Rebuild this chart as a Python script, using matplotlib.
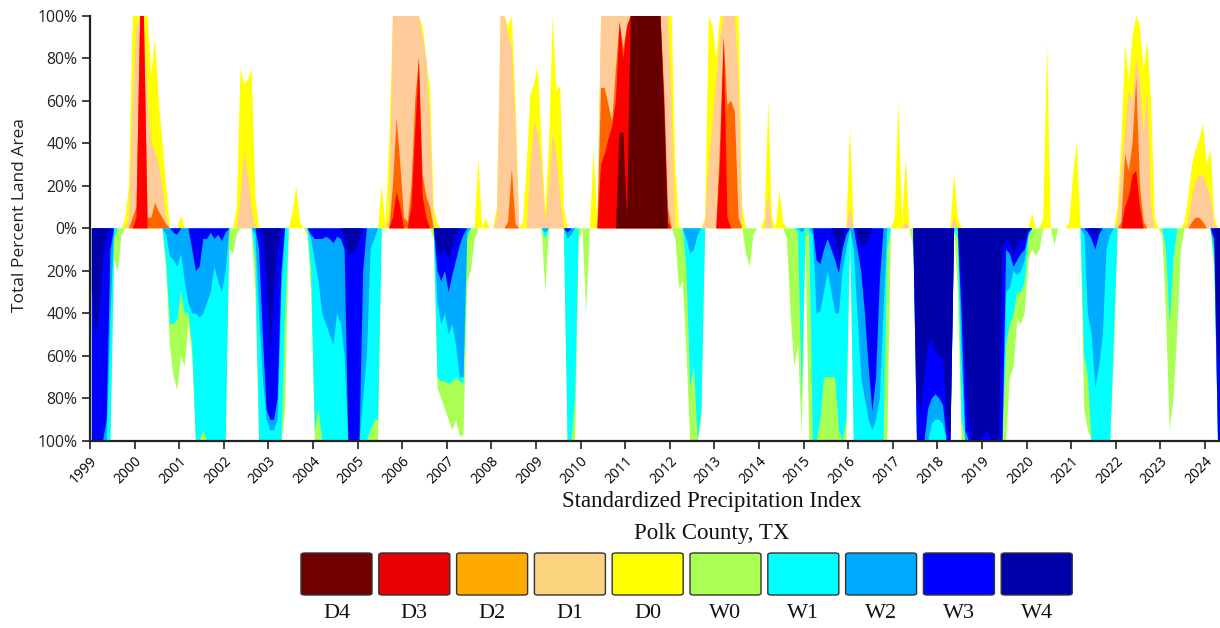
import numpy as np
import matplotlib
matplotlib.use("Agg")
import matplotlib.pyplot as plt
from matplotlib.patches import FancyBboxPatch

# ---------------- data (percent of area, cumulative categories, monthly) -------------
START_YEAR = 1999
N_MONTHS = 305  # Jan 1999 .. May 2024

D0 = {1999: [0, 0, 0, 0, 0, 0, 0, 0, 0, 5, 20, 100],
      2000: [100, 100, 100, 100, 72, 90, 60, 40, 20, 0, 0, 0],
      2001: [6],
      2002: [0, 0, 0, 10, 75, 68, 70, 75, 15, 0, 0, 0],
      2003: [0, 0, 0, 0, 0, 0, 8, 20, 3, 0, 0, 0],
      2005: [0, 0, 0, 0, 0, 0, 20, 2, 40, 100, 100, 100],
      2006: [100, 100, 100, 100, 100, 95, 80, 66, 10, 2, 0, 0],
      2007: [0, 0, 0, 0, 0, 0, 0, 0, 33, 0, 5, 0],
      2008: [0, 10, 100, 100, 95, 100, 60, 0, 3, 30, 63, 68],
      2009: [76, 40, 8, 40, 100, 65, 67, 10, 0, 0, 0, 0],
      2010: [0, 0, 0, 37, 3, 100, 100, 100, 100, 100, 100, 100],
      2011: [100, 100, 100, 100, 100, 100, 100, 100, 100, 100, 100, 100],
      2012: [100, 30, 0, 0, 0, 0, 0, 0, 0, 5, 100, 95],
      2013: [80, 100, 100, 100, 100, 100, 100, 10, 0, 0, 0, 0],
      2014: [0, 5, 60, 5, 0, 18, 3, 0, 0, 0, 0, 0],
      2016: [48],
      2017: [5, 60, 3, 33, 0],
      2018: [0, 0, 0, 0, 26, 5],
      2020: [0, 7, 0, 0, 5, 87, 0, 0, 0, 0, 0, 3],
      2021: [25, 41, 0],
      2022: [10, 40, 87, 70, 90, 100, 95, 75, 88, 60, 5, 0],
      2023: [0, 0, 0, 0, 0, 0, 3, 15, 30, 37, 42, 49],
      2024: [30, 37, 5, 0, 0]}

D1 = {1999: [0, 0, 0, 0, 0, 0, 0, 0, 0, 0, 5, 60],
      2000: [95, 100, 100, 60, 40, 37, 30, 20, 5, 0, 0, 0],
      2002: [0, 0, 0, 0, 15, 37, 25, 10, 0],
      2005: [0, 0, 0, 0, 0, 0, 0, 0, 5, 100, 100, 100],
      2006: [100, 100, 100, 100, 100, 90, 80, 50, 0],
      2008: [0, 5, 100, 100, 92, 85, 50, 0, 0, 0, 30, 50],
      2009: [45, 30, 3, 20, 45, 35, 15, 0],
      2010: [0, 0, 0, 0, 0, 100, 100, 100, 100, 100, 100, 100],
      2011: [100, 100, 100, 100, 100, 100, 100, 100, 100, 100, 100, 100],
      2012: [60, 0, 0, 0, 0, 0, 0, 0, 0, 3, 30, 50],
      2013: [70, 90, 100, 100, 100, 100, 70, 0],
      2014: [0, 0, 18, 0],
      2016: [10],
      2017: [0, 0, 0, 3, 0],
      2018: [0, 0, 0, 0, 5, 0],
      2022: [3, 28, 45, 65, 60, 80, 70, 45, 65, 10, 0, 0],
      2023: [0, 0, 0, 0, 0, 0, 0, 3, 15, 22, 25, 25],
      2024: [20, 15, 2, 0, 0]}

D2 = {1999: [0, 0, 0, 0, 0, 0, 0, 0, 0, 0, 0, 5],
      2000: [10, 100, 100, 5, 5, 12, 8, 5, 2, 0],
      2005: [0, 0, 0, 0, 0, 0, 0, 0, 0, 20, 52, 30],
      2006: [5, 3, 20, 60, 80, 25, 15, 10, 0],
      2008: [0, 0, 0, 0, 3, 28, 2, 0],
      2010: [0, 0, 0, 0, 0, 66, 66, 58, 50, 75, 97, 85],
      2011: [95, 100, 100, 100, 100, 100, 100, 100, 100, 100, 65, 10],
      2013: [0, 40, 90, 58, 60, 55, 5, 0],
      2022: [0, 3, 35, 27, 40, 71, 20, 3, 0],
      2023: [0, 0, 0, 0, 0, 0, 0, 0, 3, 5, 5, 3]}

D3 = {2000: [5, 100, 100, 0],
      2005: [0, 0, 0, 0, 0, 0, 0, 0, 0, 5, 17, 10],
      2006: [0, 0, 10, 45, 80, 15, 5, 0],
      2010: [0, 0, 0, 0, 0, 30, 35, 42, 48, 60, 97, 80],
      2011: [95, 100, 100, 100, 100, 100, 100, 100, 100, 100, 60, 3],
      2013: [0, 30, 90, 5, 0],
      2022: [0, 0, 10, 15, 25, 27, 10, 0]}

D4 = {2010: [0, 0, 0, 0, 0, 0, 0, 0, 0, 0, 45, 45],
      2011: [5, 100, 100, 100, 100, 100, 100, 100, 100, 100, 55, 0]}

W0 = {1999: [100, 100, 100, 100, 100, 100, 15, 20, 3, 0, 0, 0],
      2000: [0, 0, 0, 0, 0, 0, 0, 0, 20, 55, 70, 76],
      2001: [60, 65, 45, 60, 100, 100, 100, 100, 100, 100, 100, 100],
      2002: [100, 10, 12, 3, 0, 0, 0, 0, 30, 100, 100, 100],
      2003: [100, 100, 100, 100, 85, 0, 0, 0, 0, 0, 3, 30],
      2004: [100, 100, 100, 100, 100, 100, 100, 100, 100, 100, 100, 100],
      2005: [100, 100, 100, 100, 100, 100, 0],
      2006: [0, 0, 0, 0, 0, 0, 0, 0, 5, 75, 80, 85],
      2007: [90, 95, 90, 98, 97, 25, 20, 5, 0],
      2009: [0, 0, 30, 0, 0, 0, 0, 0, 100, 100, 100, 5],
      2010: [0, 40, 0],
      2012: [0, 5, 28, 25, 60, 100, 100, 100, 90, 0],
      2013: [0, 0, 0, 0, 0, 0, 0, 0, 12, 18, 3, 0],
      2014: [0, 0, 0, 0, 0, 0, 0, 5, 40, 65, 55, 97],
      2015: [5, 100, 100, 100, 100, 100, 100, 100, 100, 100, 100, 100],
      2016: [0, 100, 100, 100, 100, 100, 100, 100, 100, 100, 100, 0],
      2017: [0, 0, 0, 0, 0, 10, 100, 100, 100, 100, 100, 100],
      2018: [100, 100, 100, 100, 0, 30, 100, 100, 100, 100, 100, 100],
      2019: [100, 100, 100, 100, 100, 100, 100, 70, 65, 43, 45, 40],
      2020: [15, 10, 13, 10, 0, 0, 0, 8, 0],
      2021: [0, 0, 0, 85, 95, 100, 100, 100, 100, 100, 100, 60],
      2023: [3, 40, 95, 80, 50, 10, 0],
      2024: [0, 0, 20, 100, 100]}

W1 = {1999: [100, 100, 100, 100, 100, 100, 5, 0],
      2000: [0, 0, 0, 0, 0, 0, 0, 0, 15, 45, 45, 43],
      2001: [30, 40, 40, 55, 100, 100, 95, 100, 100, 100, 100, 100],
      2002: [100, 0, 0, 0, 0, 0, 0, 0, 15, 100, 100, 100],
      2003: [100, 100, 100, 100, 40, 0, 0, 0, 0, 0, 0, 20],
      2004: [95, 85, 100, 100, 100, 100, 100, 100, 100, 100, 100, 100],
      2005: [100, 100, 100, 95, 90, 90, 0],
      2006: [0, 0, 0, 0, 0, 0, 0, 0, 0, 70, 72, 72],
      2007: [73, 72, 70, 72, 73, 5, 0],
      2009: [0, 0, 5, 0, 0, 0, 0, 0, 100, 100, 80, 0],
      2012: [0, 0, 0, 0, 20, 75, 65, 100, 85, 0],
      2014: [0, 0, 0, 0, 0, 0, 0, 0, 0, 0, 2, 80],
      2015: [0, 3, 100, 100, 90, 70, 70, 70, 70, 95, 100, 90],
      2016: [0, 100, 100, 100, 100, 100, 100, 100, 100, 100, 10, 0],
      2017: [0, 0, 0, 0, 0, 0, 100, 100, 100, 100, 100, 100],
      2018: [100, 100, 100, 100, 0, 5, 90, 100, 100, 100, 100, 100],
      2019: [100, 100, 100, 100, 100, 100, 55, 45, 40, 30, 30, 25],
      2020: [5],
      2021: [0, 0, 0, 60, 70, 100, 100, 100, 100, 100, 100, 50],
      2023: [0, 10, 45, 15, 0],
      2024: [0, 0, 15, 100, 100]}

W2 = {1999: [100, 100, 100, 100, 100, 40, 0],
      2000: [0, 0, 0, 0, 0, 0, 0, 0, 3, 13, 15, 18],
      2001: [12, 25, 35, 40, 40, 42, 40, 35, 30, 18, 25, 30],
      2002: [20, 0, 0, 0, 0, 0, 0, 0, 3, 40, 70, 90],
      2003: [95, 95, 90, 30, 0, 0, 0, 0, 0, 0, 0, 5],
      2004: [15, 25, 40, 45, 50, 55, 40, 45, 60, 100, 100, 100],
      2005: [100, 80, 60, 10, 5, 0],
      2006: [0, 0, 0, 0, 0, 0, 0, 0, 0, 35, 45, 40],
      2007: [50, 45, 55, 70, 70, 2, 0],
      2009: [0, 0, 2, 0, 0, 0, 0, 0, 5, 3, 0],
      2012: [0, 0, 0, 0, 5, 12, 10, 3, 0],
      2014: [0, 0, 0, 0, 0, 0, 0, 0, 0, 0, 0, 2],
      2015: [0, 0, 3, 40, 39, 30, 20, 30, 40, 40, 20, 10],
      2016: [0, 10, 40, 70, 80, 90, 95, 90, 80, 40, 0, 0],
      2017: [0, 0, 0, 0, 0, 0, 100, 100, 100, 100, 92, 90],
      2018: [90, 92, 100, 100, 0, 0, 60, 100, 100, 100, 100, 100],
      2019: [100, 100, 100, 100, 100, 100, 30, 28, 20, 22, 20, 15],
      2020: [3],
      2021: [0, 0, 0, 3, 40, 50, 75, 65, 50, 10, 3, 0],
      2024: [0, 0, 10, 100, 100]}

W3 = {1999: [100, 100, 100, 100, 90, 10, 0],
      2000: [0, 0, 0, 0, 0, 0, 0, 0, 0, 0, 2, 3],
      2001: [0, 0, 0, 10, 20, 18, 5, 5, 2, 5, 3, 6],
      2002: [2, 0, 0, 0, 0, 0, 0, 0, 0, 10, 50, 85],
      2003: [90, 90, 80, 20, 0, 0, 0, 0, 0, 0, 0, 3],
      2004: [5, 5, 5, 4, 5, 7, 4, 5, 10, 100, 100, 100],
      2005: [100, 20, 0],
      2006: [0, 0, 0, 0, 0, 0, 0, 0, 0, 20, 25, 20],
      2007: [30, 22, 15, 8, 3, 0],
      2009: [0, 0, 0, 0, 0, 0, 0, 0, 2, 0],
      2015: [0, 0, 0, 15, 17, 10, 5, 10, 15, 21, 10, 3],
      2016: [0, 0, 10, 20, 40, 65, 86, 70, 25, 0, 0, 0],
      2017: [0, 0, 0, 0, 0, 0, 100, 100, 100, 85, 80, 78],
      2018: [80, 83, 100, 100, 0, 0, 40, 95, 100, 100, 100, 100],
      2019: [100, 100, 100, 100, 100, 100, 10, 12, 18, 15, 12, 10],
      2020: [2],
      2021: [0, 0, 0, 0, 2, 5, 10, 3, 0],
      2024: [0, 0, 5, 100, 100]}

W4 = {1999: [30, 50, 40, 15, 3, 0],
      2002: [0, 0, 0, 0, 0, 0, 0, 0, 0, 0, 5, 25],
      2003: [59, 30, 10, 0],
      2004: [0, 0, 0, 0, 0, 0, 0, 0, 5, 12, 12, 10],
      2005: [5, 0],
      2006: [0, 0, 0, 0, 0, 0, 0, 0, 0, 10, 12, 10],
      2007: [15, 8, 3, 0],
      2015: [0, 0, 0, 0, 0, 0, 0, 0, 5, 15, 5, 0],
      2016: [0, 0, 3, 8, 8, 5, 0],
      2017: [0, 0, 0, 0, 0, 0, 80, 84, 70, 55, 52, 58],
      2018: [60, 62, 90, 100, 0, 0, 20, 60, 90, 100, 100, 100],
      2019: [97, 95, 100, 100, 97, 10, 5, 7, 13, 8, 5, 5],
      2020: [1],
      2021: [0, 0, 0, 0, 0, 1, 5, 0],
      2024: [0, 0, 0, 60, 70]}

YEARS = list(range(1999, 2025))
LEGEND_LABELS = ["D4", "D3", "D2", "D1", "D0", "W0", "W1", "W2", "W3", "W4"]

# ---------------- styling -------------------------------------------------------------
FILL_COLORS = {"D0": "#FFFF00", "D1": "#FFCC99", "D2": "#FF6600", "D3": "#FF0000",
               "D4": "#660000", "W0": "#AAFF55", "W1": "#00FFFF", "W2": "#00AAFF",
               "W3": "#0000FF", "W4": "#0000AA"}
LEGEND_COLORS = {"D4": "#730000", "D3": "#E60000", "D2": "#FFAA00", "D1": "#FCD37F",
                 "D0": "#FFFF00", "W0": "#AAFF55", "W1": "#00FFFF", "W2": "#00AAFF",
                 "W3": "#0000FF", "W4": "#0000AA"}


def monthly(d):
    arr = np.zeros(N_MONTHS)
    for yr, vals in d.items():
        i = (yr - START_YEAR) * 12
        arr[i:i + len(vals)] = vals
    return arr


def active(v):
    # include a month if it or a neighbour is non-zero (keeps sloped edges,
    # drops flat zero stretches that would otherwise draw a hairline at 0)
    nz = v > 0
    m = nz.copy()
    m[1:] |= nz[:-1]
    m[:-1] |= nz[1:]
    return m


t = START_YEAR + (np.arange(N_MONTHS) + 0.5) / 12.0

dry = {k: monthly(v) for k, v in zip(["D0", "D1", "D2", "D3", "D4"], [D0, D1, D2, D3, D4])}
wet = {k: monthly(v) for k, v in zip(["W0", "W1", "W2", "W3", "W4"], [W0, W1, W2, W3, W4])}

W, H = 1220, 628
fig = plt.figure(figsize=(W / 100, H / 100), dpi=100)
ax = fig.add_axes([90 / W, 1 - 441 / H, 1130 / W, 425.3 / H])

for k in ["D0", "D1", "D2", "D3", "D4"]:
    v = dry[k]
    ax.fill_between(t, 0, v, where=active(v), facecolor=FILL_COLORS[k],
                    lw=0, edgecolor="none")
for k in ["W0", "W1", "W2", "W3", "W4"]:
    v = wet[k]
    ax.fill_between(t, 0, -v, where=active(v), facecolor=FILL_COLORS[k],
                    lw=0, edgecolor="none")

ax.set_xlim(1999.0, 2024.336)
ax.set_ylim(-100, 100)
ax.set_xticks(YEARS)
ax.set_xticklabels([str(y) for y in YEARS], rotation=45, ha="right",
                   rotation_mode="anchor", fontsize=10, family="Open Sans")
yt = np.arange(-100, 101, 20)
ax.set_yticks(yt)
ax.set_yticklabels([f"{abs(v)}%" for v in yt], fontsize=11.3, family="Open Sans",
                   color="#222222")
for s in ["top", "right"]:
    ax.spines[s].set_visible(False)
for s in ["left", "bottom"]:
    ax.spines[s].set_linewidth(1.6)
    ax.spines[s].set_color("#222222")
    ax.spines[s].set_zorder(5)
ax.tick_params(axis="both", length=6, width=1.2, color="#222222", pad=3)
ax.set_ylabel("Total Percent Land Area", fontsize=12.5, family="Open Sans",
              color="#222222")
ax.yaxis.set_label_coords(-62 / 1130, 0.531)

serif = "Liberation Serif"
fig.text(712 / W, 1 - 502 / H, "Standardized Precipitation Index", ha="center",
         va="center", fontsize=16.5, family=serif, color="#111111")
fig.text(712 / W, 1 - 533 / H, "Polk County, TX", ha="center", va="center",
         fontsize=16.5, family=serif, color="#111111")

box_w, box_h = 71, 42
x0, step = 301, 77.8
for i, lab in enumerate(LEGEND_LABELS):
    bx = x0 + i * step
    p = FancyBboxPatch((bx / W, 1 - 595 / H), box_w / W, box_h / H,
                       boxstyle="round,pad=0,rounding_size=0.003",
                       transform=fig.transFigure, fc=LEGEND_COLORS[lab],
                       ec="#333333", lw=1.0)
    fig.patches.append(p)
    fig.text((bx + box_w / 2) / W, 1 - 614 / H, lab, ha="center", va="center",
             fontsize=16, family=serif, color="#111111")

fig.savefig("out.png", dpi=100)
